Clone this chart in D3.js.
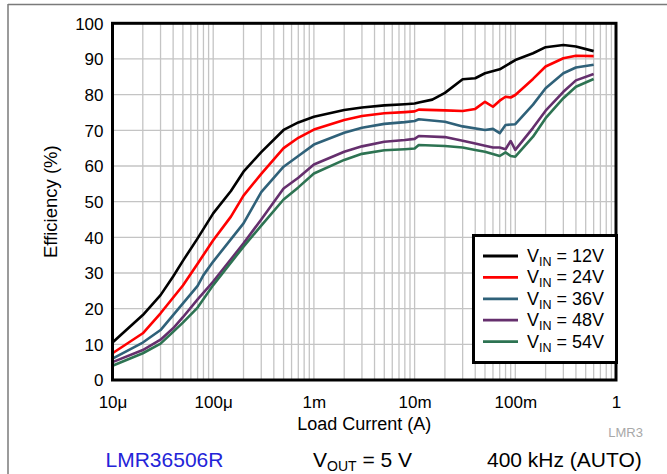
<!DOCTYPE html>
<html><head><meta charset="utf-8">
<script src="https://cdn.jsdelivr.net/npm/d3@7"></script>
<style>html,body{margin:0;padding:0;background:#fff;} svg{display:block;font-family:"Liberation Sans",Arial,Helvetica,sans-serif;}</style>
</head><body><svg id="c" width="667" height="474"></svg>
<script>
// ---- data ----
const currents12 = [1e-5,2e-5,3e-5,4e-5,5e-5,7e-5,1e-4,1.5e-4,2e-4,3e-4,5e-4,7e-4,1e-3,2e-3,3e-3,5e-3,8e-3,1e-2,1.1e-2,1.5e-2,2e-2,3e-2,4e-2,5e-2,7e-2,0.1,0.15,0.2,0.3,0.4,0.6];
const eff12 =     [10.5,18.2,23.8,29,33.4,39.7,46.7,53,58.4,63.9,70.1,72.2,73.8,75.7,76.4,77,77.3,77.5,77.8,78.6,80.5,84.3,84.6,86,87.1,89.7,91.6,93.3,93.9,93.5,92.2];

const currents24 = [1e-5,2e-5,3e-5,5e-5,7e-5,1e-4,1.5e-4,2e-4,3e-4,5e-4,7e-4,1e-3,2e-3,3e-3,5e-3,8e-3,1e-2,1.1e-2,2e-2,3e-2,4e-2,5e-2,6e-2,7e-2,8e-2,9e-2,0.1,0.15,0.2,0.3,0.4,0.6];
const eff24 =     [7.5,13.1,18.7,26.5,32.6,39.2,45.8,51.7,57.8,65,67.9,70.2,72.9,74,74.8,75.1,75.3,75.8,75.6,75.4,76,78,76.6,78.3,79.4,79.2,79.9,84.4,87.9,90.2,90.9,90.8];

const currents36 = [1e-5,2e-5,3e-5,4e-5,7e-5,8e-5,1e-4,2e-4,3e-4,5e-4,7e-4,1e-3,2e-3,3e-3,5e-3,8e-3,1e-2,1.1e-2,2e-2,3e-2,5e-2,6e-2,7e-2,8e-2,0.1,0.15,0.2,0.3,0.4,0.6];
const eff36 =     [6,10.5,14,18.2,26.4,29.4,33.2,43.9,52.7,59.8,62.8,66,69.3,70.7,71.8,72.3,72.6,73.1,72.4,71.1,70.1,70.4,69.2,71.5,71.7,77.2,81.8,86,87.6,88.4];

const currents48 = [1e-5,2e-5,3e-5,4e-5,5e-5,7e-5,1e-4,2e-4,3e-4,5e-4,7e-4,1e-3,2e-3,3e-3,5e-3,8e-3,1e-2,1.1e-2,2e-2,3e-2,4e-2,5e-2,6e-2,7e-2,8e-2,9e-2,0.1,0.15,0.2,0.3,0.4,0.6];
const eff48 =     [5,8.4,11.3,14.5,17.6,22.6,27.6,38.3,45,53.7,56.7,60.4,64,65.5,66.8,67.3,67.6,68.4,68.1,67.1,66.3,65.7,65.2,65.2,64.7,67,64.5,70.7,75.5,80.8,84,85.8];

const currents54 = [1e-5,2e-5,3e-5,4e-5,5e-5,7e-5,1e-4,2e-4,3e-4,5e-4,7e-4,1e-3,2e-3,3e-3,5e-3,8e-3,1e-2,1.1e-2,2e-2,3e-2,4e-2,5e-2,7e-2,8e-2,9e-2,0.1,0.15,0.2,0.3,0.4,0.6];
const eff54 =     [4,7.5,10.2,13.5,16.1,20.3,26.6,37.4,43.3,50.6,54,57.9,61.7,63.4,64.4,64.7,64.9,65.9,65.6,65.2,64.5,64,62.8,63.8,62.8,62.6,68.2,73.4,79,82.2,84.4];

const seriesNames = ["12V","24V","36V","48V","54V"];
const seriesColors = ["#000000","#ff0000","#2f6179","#652f6d","#2d7352"];
const seriesCurrents = [currents12,currents24,currents36,currents48,currents54];
const seriesEff = [eff12,eff24,eff36,eff48,eff54];

const xTickValues = [1e-5,1e-4,1e-3,1e-2,1e-1,1];
const xTickLabels = ["10\u03bc","100\u03bc","1m","10m","100m","1"];
const yTickValues = [0,10,20,30,40,50,60,70,80,90,100];

// ---- drawing ----
const svg = d3.select("#c");
const L = 112.5, R = 616, T = 23.3, B = 380;
const x = d3.scaleLog().domain([1e-5,1]).range([L,R]);
const y = d3.scaleLinear().domain([0,100]).range([B,T]);

// outer frame lines
svg.append("line").attr("x1",8).attr("x2",667).attr("y1",4.5).attr("y2",4.5).attr("stroke","#7a7a7a").attr("stroke-width",1.5);
svg.append("line").attr("x1",8).attr("x2",8).attr("y1",4).attr("y2",474).attr("stroke","#7a7a7a").attr("stroke-width",1.5);

// grid
const minor = [];
for (let e=-5;e<0;e++) for (let m=2;m<=9;m++) minor.push(m*Math.pow(10,e));
const grid = svg.append("g");
grid.selectAll("line.v").data(minor.concat(xTickValues)).join("line")
  .attr("x1",d=>x(d)).attr("x2",d=>x(d)).attr("y1",T).attr("y2",B)
  .attr("stroke","#c4c4c4").attr("stroke-width",1.3);
grid.selectAll("line.h").data(yTickValues).join("line")
  .attr("x1",L).attr("x2",R).attr("y1",d=>y(d)).attr("y2",d=>y(d))
  .attr("stroke","#c4c4c4").attr("stroke-width",1.3);

// axes (labels only)
const xAxis = d3.axisBottom(x).tickValues(xTickValues).tickFormat((d,i)=>xTickLabels[i]).tickSize(0).tickPadding(0);
const gx = svg.append("g").attr("transform",`translate(0,${B})`).call(xAxis);
gx.select(".domain").remove();
gx.selectAll("text").attr("font-size",17).attr("fill","#000").attr("dy",null).attr("y",28)
  .attr("font-family","'Liberation Sans',Arial,sans-serif");

const yAxis = d3.axisLeft(y).tickValues(yTickValues).tickSize(0).tickPadding(0);
const gy = svg.append("g").attr("transform",`translate(${L-9},0)`).call(yAxis);
gy.select(".domain").remove();
gy.selectAll("text").attr("font-size",17).attr("fill","#000").attr("dy","0.35em")
  .attr("font-family","'Liberation Sans',Arial,sans-serif");

// lines
const line = d3.line().x(d=>x(d[0])).y(d=>y(d[1]));
seriesNames.forEach((n,i)=>{
  const pts = seriesCurrents[i].map((c,j)=>[c,seriesEff[i][j]]);
  svg.append("path").datum(pts).attr("d",line).attr("fill","none")
    .attr("stroke",seriesColors[i]).attr("stroke-width",2.6).attr("stroke-linejoin","round");
});

// plot border
svg.append("rect").attr("x",L).attr("y",T).attr("width",R-L).attr("height",B-T)
  .attr("fill","none").attr("stroke","#000").attr("stroke-width",3);

// legend
const lg = svg.append("g");
lg.append("rect").attr("x",473.5).attr("y",235.5).attr("width",143).attr("height",127)
  .attr("fill","#fff").attr("stroke","#000").attr("stroke-width",3);
seriesNames.forEach((n,i)=>{
  const yy = 256 + i*21.4;
  lg.append("line").attr("x1",483).attr("x2",518).attr("y1",yy).attr("y2",yy)
    .attr("stroke",seriesColors[i]).attr("stroke-width",2.8);
  const t = lg.append("text").attr("x",527).attr("y",yy+6).attr("font-size",18).attr("fill","#000");
  t.append("tspan").text("V");
  t.append("tspan").attr("font-size",12.5).attr("dy",4).text("IN");
  t.append("tspan").attr("dy",-4).text(" = " + n);
});

// titles
svg.append("text").attr("x",(L+R)/2).attr("y",430).attr("text-anchor","middle").attr("font-size",18).text("Load Current (A)");
svg.append("text").attr("transform",`translate(57,${(T+B)/2}) rotate(-90)`).attr("text-anchor","middle").attr("font-size",18.5).text("Efficiency (%)");
svg.append("text").attr("x",643).attr("y",437).attr("text-anchor","end").attr("font-size",13).attr("fill","#a8a8a8").text("LMR3");

// footer
svg.append("text").attr("x",105.5).attr("y",467).attr("font-size",21).attr("fill","#2424d8").text("LMR36506R");
const vt = svg.append("text").attr("x",313).attr("y",467).attr("font-size",21).attr("fill","#000");
vt.append("tspan").text("V");
vt.append("tspan").attr("font-size",14).attr("dy",3.5).text("OUT");
vt.append("tspan").attr("dy",-3.5).text(" = 5 V");
svg.append("text").attr("x",487).attr("y",467).attr("font-size",21).attr("fill","#000").text("400 kHz (AUTO)");
</script></body></html>
